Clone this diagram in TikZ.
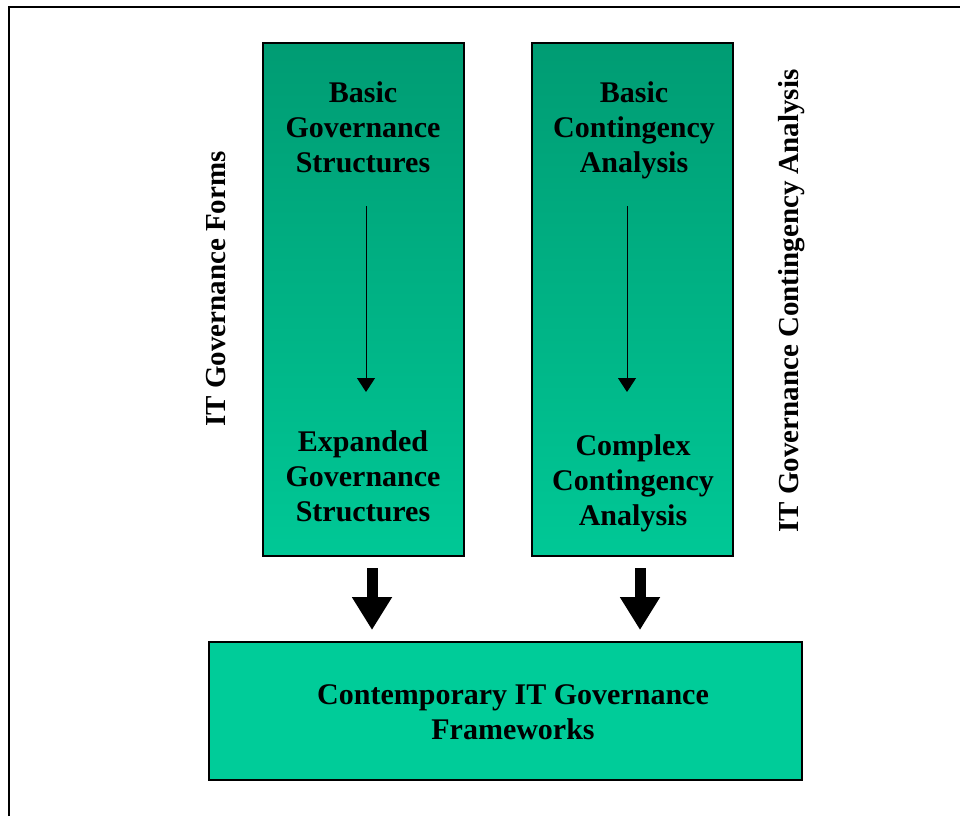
\documentclass[tikz,border=0pt]{standalone}
\usepackage{fontspec}
\setmainfont{Liberation Serif}
\usetikzlibrary{positioning, arrows.meta}
\definecolor{colTop}{RGB}{0,156,115}
\definecolor{colBottom}{RGB}{0,200,150}
\definecolor{baseFill}{RGB}{0,204,153}

\begin{document}
\begin{tikzpicture}[x=1pt, y=-1pt,
        colbox/.style={draw=black, line width=1.2pt, top color=colTop, bottom color=colBottom, minimum width=201pt, minimum height=513pt, inner sep=0pt},
        basebox/.style={draw=black, line width=1.6pt, fill=baseFill, minimum width=593pt, minimum height=138pt, inner sep=0pt},
        boxtext/.style={align=center, inner sep=0pt, font=\fontsize{30}{35}\selectfont\bfseries},
        sidetext/.style={rotate=90, inner sep=0pt, font=\fontsize{29}{34}\selectfont\bfseries},
        thinarrow/.style={line width=1pt, -{Triangle[length=14pt, width=18pt]}},
        fatarrow/.style={line width=11pt, -{Triangle[length=33pt, width=38pt]}}]
        \useasboundingbox (0,0) rectangle (965,816);
        \draw[line width=1.5pt] (9,816) -- (9,7) -- (960,7);
        % two columns
        \node[colbox] (formscol) at (363.5,299.5) {};
        \node[colbox] (contcol) at (632.5,299.5) {};
        \node[basebox] (frameworks) at (505.5,711) {};
        % texts
        \node[boxtext] (basicgov) at (363,127) {Basic\\Governance\\Structures};
        \node[boxtext] (expgov) at (363,476) {Expanded\\Governance\\Structures};
        \node[boxtext] (basiccont) at (634,130) {Basic\\Contingency\\Analysis};
        \node[boxtext] (complexcont) at (633,483) {Complex\\Contingency\\Analysis};
        \node[boxtext] (frametext) at (513,712.5) {Contemporary IT Governance\\Frameworks};
        \node[sidetext] (formslabel) at (216,289) {IT Governance Forms};
        \node[sidetext] (contlabel) at (791.5,301) {IT Governance Contingency Analysis};
        % arrows
        \coordinate (govstart) at (366,206);
        \coordinate (govend) at (366,392);
        \coordinate (contstart) at (627,206);
        \coordinate (contend) at (627,392);
        \draw[thinarrow] (govstart) -- (govend);
        \draw[thinarrow] (contstart) -- (contend);
        \coordinate (leftfrom) at (372,568);
        \coordinate (leftto) at (372,630);
        \coordinate (rightfrom) at (640,568);
        \coordinate (rightto) at (640,630);
        \draw[fatarrow] (leftfrom) -- (leftto);
        \draw[fatarrow] (rightfrom) -- (rightto);
    \end{tikzpicture}
\end{document}
